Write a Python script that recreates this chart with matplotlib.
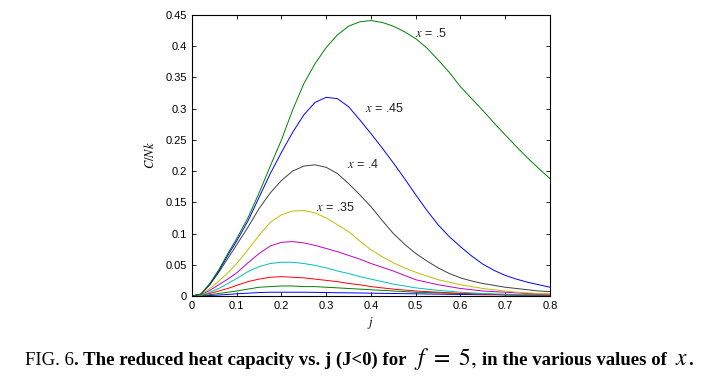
import numpy as np
import matplotlib
matplotlib.use('Agg')
import matplotlib.pyplot as plt

#%% Data
j = [0, 0.02, 0.04, 0.06, 0.08, 0.1, 0.125, 0.15, 0.175, 0.2, 0.225, 0.25, 0.275,
     0.3, 0.325, 0.35, 0.375, 0.4, 0.425, 0.45, 0.475, 0.5, 0.525, 0.55, 0.575,
     0.6, 0.625, 0.65, 0.675, 0.7, 0.725, 0.75, 0.775, 0.8]

C_x10 = [0, 0.0002, 0.0008, 0.0015, 0.0025, 0.0035, 0.0045, 0.0055, 0.006, 0.006, 0.006, 0.006, 0.0058,
         0.0055, 0.0052, 0.005, 0.0048, 0.0045, 0.0042, 0.004, 0.0037, 0.0035, 0.0032, 0.003, 0.0027,
         0.0025, 0.0022, 0.002, 0.0019, 0.0018, 0.0016, 0.0015, 0.0013, 0.0012]
C_x15 = [0, 0.0005, 0.002, 0.004, 0.006, 0.008, 0.011, 0.014, 0.015, 0.016, 0.016, 0.015, 0.015,
         0.014, 0.013, 0.012, 0.011, 0.010, 0.009, 0.008, 0.007, 0.006, 0.0055, 0.005, 0.0045,
         0.004, 0.0035, 0.003, 0.0025, 0.002, 0.002, 0.002, 0.0015, 0.001]
C_x20 = [0, 0.001, 0.004, 0.008, 0.012, 0.017, 0.023, 0.027, 0.030, 0.031, 0.030, 0.029, 0.027,
         0.025, 0.023, 0.020, 0.018, 0.015, 0.013, 0.011, 0.0095, 0.008, 0.007, 0.006, 0.005,
         0.004, 0.0035, 0.003, 0.0025, 0.002, 0.0015, 0.001, 0.001, 0.001]
C_x25 = [0, 0.001, 0.006, 0.012, 0.020, 0.028, 0.039, 0.047, 0.052, 0.054, 0.054, 0.052, 0.049,
         0.045, 0.040, 0.036, 0.031, 0.027, 0.023, 0.019, 0.016, 0.013, 0.011, 0.009, 0.0075,
         0.006, 0.005, 0.004, 0.0035, 0.003, 0.0025, 0.002, 0.002, 0.002]
C_x30 = [0, 0.002, 0.009, 0.018, 0.027, 0.037, 0.053, 0.068, 0.080, 0.086, 0.087, 0.085, 0.081,
         0.076, 0.071, 0.065, 0.059, 0.052, 0.046, 0.040, 0.033, 0.026, 0.022, 0.018, 0.015,
         0.012, 0.010, 0.008, 0.007, 0.006, 0.005, 0.004, 0.0035, 0.003]
C_x35 = [0, 0.002, 0.012, 0.024, 0.037, 0.052, 0.074, 0.097, 0.118, 0.130, 0.136, 0.137, 0.133,
         0.125, 0.114, 0.103, 0.088, 0.074, 0.063, 0.053, 0.045, 0.038, 0.032, 0.026, 0.022,
         0.018, 0.015, 0.012, 0.010, 0.008, 0.006, 0.005, 0.004, 0.003]
C_x40 = [0, 0.003, 0.018, 0.038, 0.060, 0.082, 0.110, 0.140, 0.165, 0.185, 0.200, 0.208, 0.210,
         0.206, 0.196, 0.180, 0.162, 0.143, 0.121, 0.100, 0.083, 0.068, 0.056, 0.045, 0.036,
         0.029, 0.024, 0.020, 0.017, 0.014, 0.012, 0.010, 0.008, 0.007]
C_x45 = [0, 0.003, 0.019, 0.040, 0.065, 0.088, 0.120, 0.158, 0.196, 0.230, 0.262, 0.290, 0.310,
         0.318, 0.316, 0.303, 0.282, 0.260, 0.237, 0.213, 0.188, 0.162, 0.137, 0.114, 0.095,
         0.079, 0.064, 0.051, 0.041, 0.033, 0.027, 0.022, 0.018, 0.014]
C_x50 = [0, 0.003, 0.020, 0.042, 0.068, 0.092, 0.125, 0.165, 0.208, 0.250, 0.298, 0.340, 0.372,
         0.398, 0.418, 0.432, 0.439, 0.441, 0.438, 0.432, 0.423, 0.412, 0.397, 0.378, 0.358,
         0.335, 0.316, 0.297, 0.277, 0.258, 0.239, 0.221, 0.204, 0.188]

series = [C_x10, C_x15, C_x20, C_x25, C_x30, C_x35, C_x40, C_x45, C_x50]

# old MATLAB colour order
colors = [(0, 0, 1), (0, 0.5, 0), (1, 0, 0), (0, 0.75, 0.75), (0.75, 0, 0.75),
          (0.75, 0.75, 0), (0.25, 0.25, 0.25), (0, 0, 1), (0, 0.5, 0)]

labels = [('$x$ = .5', 0.498, 0.421), ('$x$ = .45', 0.387, 0.30),
          ('$x$ = .4', 0.346, 0.21), ('$x$ = .35', 0.277, 0.142)]

#%% Plot
plt.rcParams['font.family'] = ['Liberation Sans', 'DejaVu Sans']
plt.rcParams['mathtext.fontset'] = 'stix'

fig = plt.figure(figsize=(7.15, 3.77), dpi=100)
ax = fig.add_axes([0.2685, 0.2149, 0.5007, 0.7455])

for C, c in zip(series, colors):
    ax.plot(j, C, '-', color=c, lw=0.7)

for txt, xx, yy in labels:
    ax.text(xx, yy, txt, fontsize=9, color='#222222', va='center')

ax.set_xlim(0, 0.8)
ax.set_ylim(0, 0.45)
ax.set_xticks(np.arange(0, 0.81, 0.1))
ax.set_yticks(np.arange(0, 0.451, 0.05))
ax.set_xticklabels(['0', '0.1', '0.2', '0.3', '0.4', '0.5', '0.6', '0.7', '0.8'])
ax.set_yticklabels(['0', '0.05', '0.1', '0.15', '0.2', '0.25', '0.3', '0.35', '0.4', '0.45'])
ax.tick_params(direction='in', top=True, right=True, labelsize=8, length=3, width=0.6)
for s in ax.spines.values():
    s.set_linewidth(0.8)

ax.set_xlabel('$j$', fontsize=9, labelpad=3)
ax.set_ylabel('$C/Nk$', fontsize=9, labelpad=6)

#%% Caption, laid out piece by piece (text, style, gap after in px)
pieces = [('FIG. 6', dict(family='Liberation Serif', fontsize=13.5), 0),
          ('. The reduced heat capacity vs. j (J<0) for ', dict(family='Liberation Serif', fontsize=13.5, weight='bold'), 3),
          (r'$f\ =\ 5,$', dict(fontsize=17), 6),
          ('in the various values of ', dict(family='Liberation Serif', fontsize=13.5, weight='bold'), 3),
          ('$x$', dict(fontsize=17), 0),
          ('.', dict(family='Liberation Serif', fontsize=13.5, weight='bold'), 0)]

fig.canvas.draw()
r = fig.canvas.get_renderer()
xpos = 25
for txt, kw, gap in pieces:
    t = fig.text(xpos / 715, 0.032, txt, ha='left', va='baseline', **kw)
    bb = t.get_window_extent(renderer=r)
    xpos = bb.x1 + gap

fig.savefig('out.png', dpi=100)
